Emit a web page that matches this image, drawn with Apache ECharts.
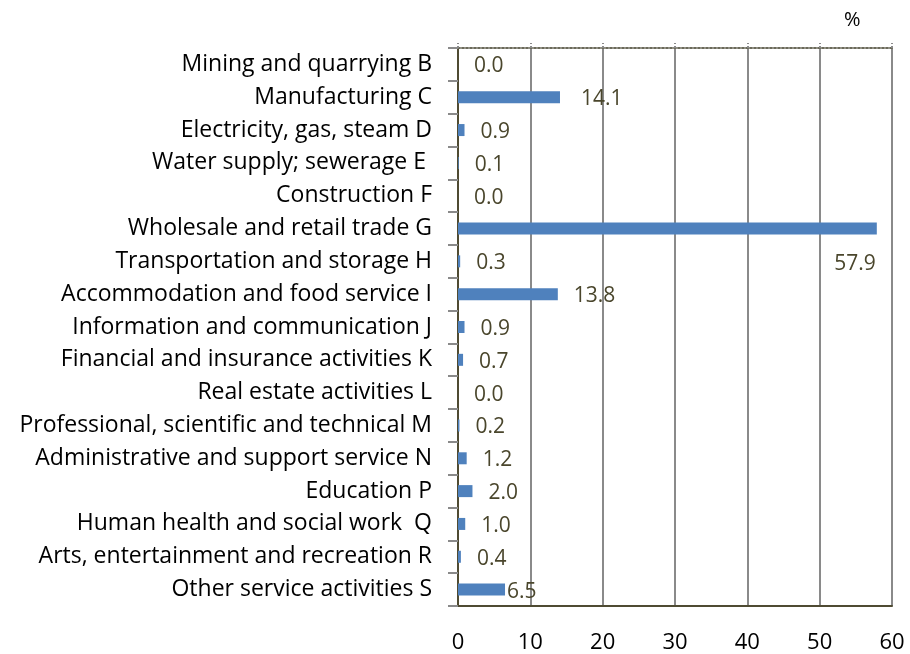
<!DOCTYPE html>
<html>
<head>
<meta charset="utf-8">
<script src="https://cdn.jsdelivr.net/npm/echarts@6/dist/echarts.min.js"></script>
<style>
  html, body { margin: 0; padding: 0; background: #fff; }
</style>
</head>
<body>
<div id="main" style="width: 910px;height: 654px;"></div>
<script>
const categories = [
  'Mining and quarrying B',
  'Manufacturing C',
  'Electricity, gas, steam D',
  'Water supply; sewerage E ',
  'Construction F',
  'Wholesale and retail trade G',
  'Transportation and storage H',
  'Accommodation and food service I',
  'Information and communication J',
  'Financial and insurance activities K',
  'Real estate activities L',
  'Professional, scientific and technical M',
  'Administrative and support service N',
  'Education P',
  'Human health and social work  Q',
  'Arts, entertainment and recreation R',
  'Other service activities S'
]
const shares = [0.0, 14.1, 0.9, 0.1, 0.0, 57.9, 0.3, 13.8, 0.9, 0.7, 0.0, 0.2, 1.2, 2.0, 1.0, 0.4, 6.5]
const xTicks = [0, 10, 20, 30, 40, 50, 60]

const font = '"Open Sans", sans-serif'
const labelColor = '#4a462c'

const chart = echarts.init(document.getElementById('main'))

// most labels sit just right of the bar, a few were moved by hand in the original
const barData = shares.map((v, i) => {
  const item = {value: v}
  if (v === 57.9) {
    item.label = {position: 'insideBottomRight', distance: 0, offset: [-1, 40]}
  } else if (v === 6.5) {
    item.label = {distance: 2}
  } else if (v === 14.1) {
    item.label = {distance: 21}
  }
  return item
})

const option = {
  backgroundColor: '#ffffff',
  animation: false,
  grid: {left: 458, right: 18, top: 48, bottom: 46},
  graphic: [{
    type: 'text',
    left: 844, top: 10,
    style: {text: '%', font: '20px ' + font, fill: '#000'}
  }],
  xAxis: [{
    type: 'value',
    min: 0, max: 60, interval: 10,
    position: 'bottom',
    axisLine: {show: true, lineStyle: {color: '#4f4b33', width: 2}},
    axisTick: {show: false},
    axisLabel: {
      margin: 26, color: '#000', fontSize: 22, fontFamily: font,
      formatter: v => xTicks.includes(v) ? String(v) : ''
    },
    splitLine: {show: true, lineStyle: {color: '#8a8a8a', width: 2}}
  }, {
    type: 'value',
    min: 0, max: 60, interval: 10,
    position: 'top',
    axisLine: {show: true, lineStyle: {color: '#6b6a5a', width: 2, type: 'dotted'}},
    axisTick: {show: true, length: 5, lineStyle: {color: '#8a8a8a', type: 'dotted', width: 2}},
    axisLabel: {show: false},
    splitLine: {show: false}
  }],
  yAxis: [{
    type: 'category',
    data: categories,
    inverse: true,
    axisLine: {show: true, lineStyle: {color: '#8a8a8a', width: 2}},
    axisTick: {show: true, length: 10, lineStyle: {color: '#8a8a8a', width: 2}},
    axisLabel: {margin: 26, color: '#000', fontSize: 23, fontFamily: font, padding: [0, 0, 5, 0]}
  }, {
    type: 'category',
    data: categories,
    inverse: true,
    position: 'right',
    axisLine: {show: true, lineStyle: {color: '#4f4b33', width: 2}},
    axisTick: {show: false},
    axisLabel: {show: false}
  }],
  series: [{
    type: 'bar',
    data: barData,
    barWidth: 12,
    itemStyle: {color: '#4f81bd'},
    label: {
      show: true,
      position: 'right',
      distance: 16,
      offset: [0, 2],
      color: labelColor,
      fontSize: 21,
      fontFamily: font,
      formatter: p => p.value.toFixed(1)
    }
  }]
}
chart.setOption(option)
</script>
</body>
</html>
